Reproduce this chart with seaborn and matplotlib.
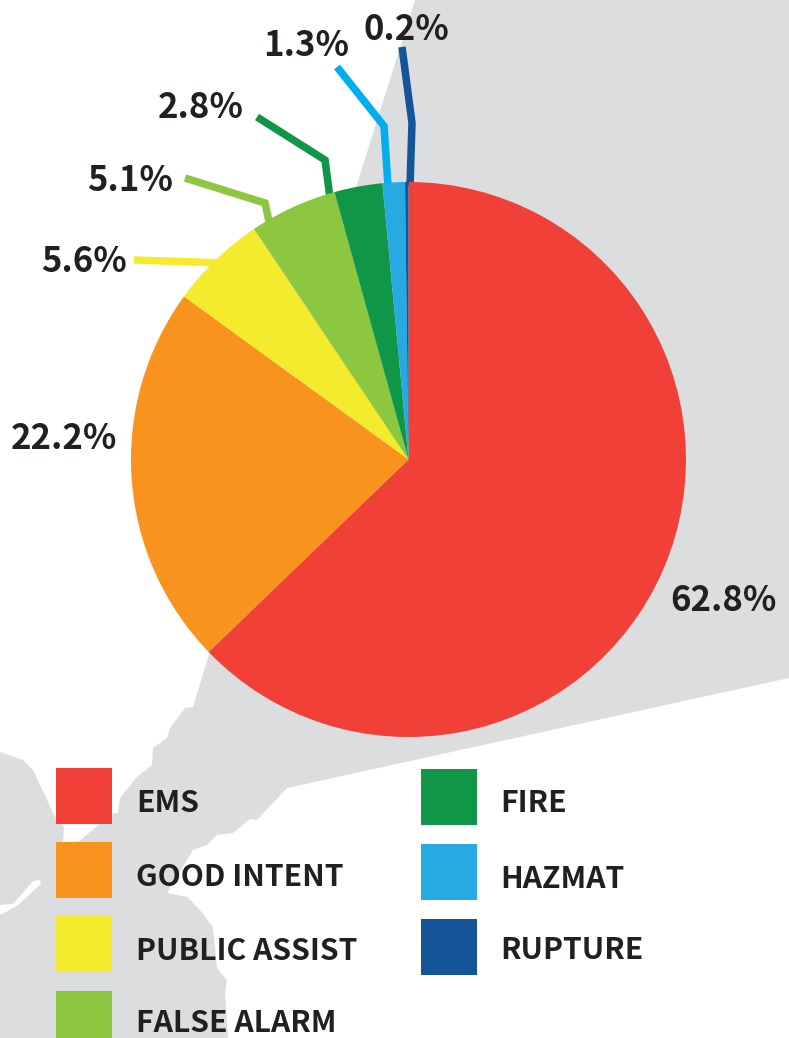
"""Incident type share pie chart over a grey map backdrop."""
import matplotlib.pyplot as plt
import seaborn as sns
from matplotlib.patches import Polygon, Rectangle

categories = ["EMS", "GOOD INTENT", "PUBLIC ASSIST", "FALSE ALARM", "FIRE", "HAZMAT", "RUPTURE"]
shares = [62.8, 22.2, 5.6, 5.1, 2.8, 1.3, 0.2]
share_labels = ["62.8%", "22.2%", "5.6%", "5.1%", "2.8%", "1.3%", "0.2%"]
slice_colors = ["#F04037", "#F8931D", "#F4EB2D", "#8DC63F", "#0F9647", "#27AAE1", "#135597"]
leader_colors = [None, None, "#F4EB2D", "#8DC63F", "#0F9647", "#00AEEF", "#135597"]

W, H = 789, 1038
INK = "#231F20"
LAND = "#DCDDDE"

# layout, in image pixels (y down)
label_pos = [(723, 597), (64, 435), (84, 258), (130, 177), (201, 104), (306, 42), (406, 26)]
leader_pts = [
    None,
    None,
    [(134, 260), (225, 263)],
    [(185, 178), (265, 203), (270, 226)],
    [(257, 117), (325, 160), (330, 198)],
    [(337, 67), (384, 126), (388, 186)],
    [(402, 47), (412, 123), (410, 186)],
]
swatch_pos = [(56, 768), (56, 842), (56, 916), (56, 991), (421, 769), (421, 844), (421, 919)]
legend_text_pos = [(136, 800), (136, 874), (136, 948), (136, 1020), (500, 800), (500, 876), (500, 947)]
land_outline = [
    (415, 0), (789, 0), (789, 678), (287, 788), (257, 820), (250, 819), (233, 833),
    (217, 835), (207, 845), (193, 850), (167, 893), (187, 897), (200, 910), (213, 927),
    (217, 968), (227, 980), (225, 993), (228, 1038), (0, 1038), (0, 915), (17, 906),
    (41, 884), (40, 880), (33, 881), (13, 904), (0, 905), (0, 752), (23, 760), (33, 770),
    (55, 817), (64, 827), (63, 842), (78, 842), (112, 814), (118, 813), (120, 798),
    (137, 777), (152, 765), (153, 748), (167, 738), (170, 728), (185, 708), (193, 707),
    (210, 651),
]


def flip(pts):
    return [(x, H - y) for x, y in pts]


sns.set_theme(style="white")
plt.rcParams["font.family"] = ["Noto Sans CJK JP", "DejaVu Sans"]

fig = plt.figure(figsize=(W / 100, H / 100), dpi=100)
ax = fig.add_axes([0, 0, 1, 1])
palette = sns.color_palette(slice_colors)

ax.add_patch(Polygon(flip(land_outline), closed=True, facecolor=LAND, edgecolor="none", zorder=0))

ax.pie(
    shares,
    colors=palette,
    startangle=90,
    counterclock=False,
    center=(408.5, H - 459.5),
    radius=277.5,
    wedgeprops={"linewidth": 0, "zorder": 3},
)
ax.set_xlim(0, W)
ax.set_ylim(0, H)
ax.axis("off")

for pts, color in zip(leader_pts, leader_colors):
    if pts is None:
        continue
    xs, ys = zip(*flip(pts))
    ax.plot(xs, ys, color=color, lw=5.4, solid_joinstyle="miter", solid_capstyle="butt", zorder=2)

for label, (x, y) in zip(share_labels, label_pos):
    ax.text(x, H - y, label, ha="center", va="center_baseline", fontsize=25, fontweight="bold", color=INK, zorder=4)

for cat, color, (sx, sy), (tx, ty) in zip(categories, palette, swatch_pos, legend_text_pos):
    ax.add_patch(Rectangle((sx, H - sy - 56), 56, 56, facecolor=color, edgecolor="none", zorder=3))
    ax.text(tx, H - ty, cat, ha="left", va="center_baseline", fontsize=21.7, fontweight="bold", color=INK, zorder=4)

fig.savefig("out.png", dpi=100)
